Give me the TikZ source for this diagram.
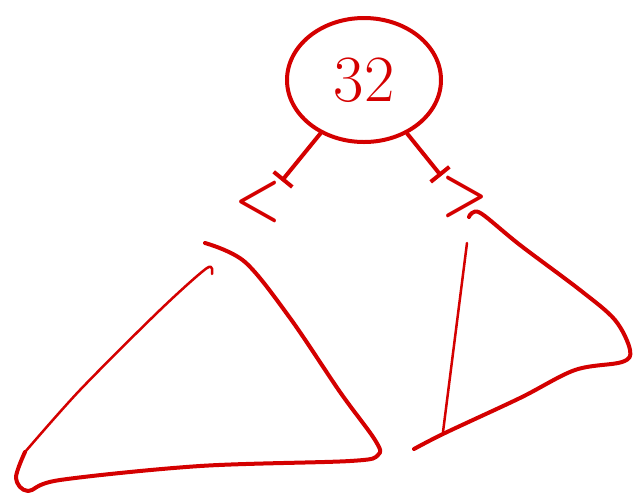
\documentclass[tikz,border=0pt]{standalone}
\usetikzlibrary{arrows.meta, shapes.geometric}
\definecolor{ink}{RGB}{212,0,0}

\begin{document}
\begin{tikzpicture}[
      x=1pt, y=-1pt,
      pen/.style={ink, line width=4pt, line cap=round, line join=round},
      thinpen/.style={ink, line width=2.5pt, line cap=round, line join=round},
      edge/.style={pen, -{Bar[width=24pt, line width=4pt]}},
      key/.style={ellipse, draw, pen, minimum width=154pt, minimum height=124pt, text=ink, font=\fontsize{66}{70}\selectfont},
      cmp/.style={text=ink, inner sep=0pt, xscale=0.85, font=\fontsize{62}{66}\selectfont\bfseries}
    ]
    \useasboundingbox (0,0) rectangle (634,499);

    % Radice
    \node[key] (root) at (364,80) {32};

    % Confronti
    \node[cmp] (lt) at (258,202) {<};
    \node[cmp] (gt) at (465,197) {>};
    \draw[edge] (root) -- (lt.north east);
    \draw[edge] (root) -- (gt.north west);

    % Sottoalbero sinistro
    \draw[pen] plot[smooth, tension=0.55] coordinates {(205,243) (245,262) (290,318) (340,392) (375,440) (378,455) (350,461) (200,466) (60,480) (28,491) (16,478) (25,452)};
    \draw[thinpen] plot[smooth, tension=0.5] coordinates {(25,452) (80,390) (160,310) (207,268) (212,274)};

    % Sottoalbero destro
    \draw[thinpen] (467,243) -- (443,432);
    \draw[pen] plot[smooth, tension=0.55] coordinates {(414,449) (445,433) (520,398) (575,370) (622,362) (630,350) (615,320) (580,290) (520,245) (482,214) (472,213) (469,217)};
  \end{tikzpicture}
\end{document}
